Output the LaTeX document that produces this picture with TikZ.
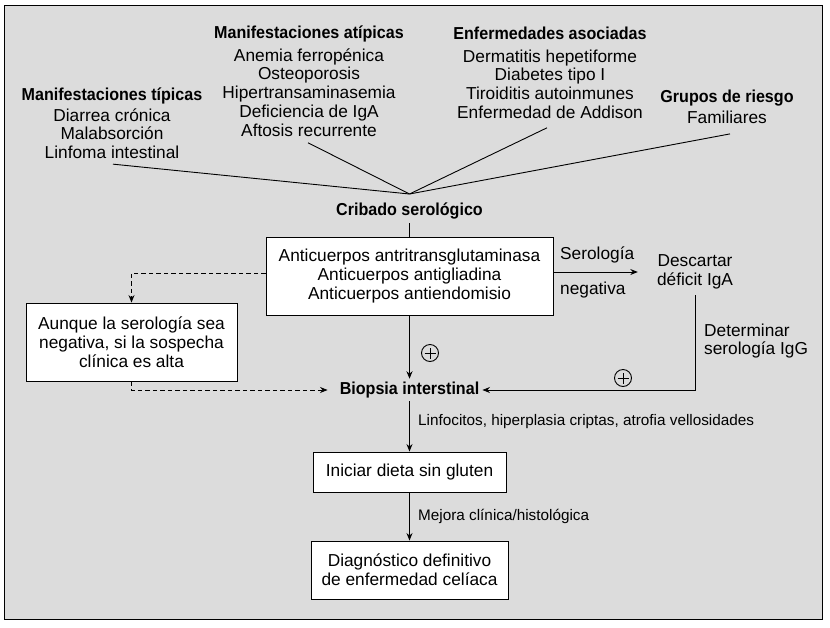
\documentclass[tikz,border=0pt]{standalone}
\usepackage{fontspec}
\setmainfont{Liberation Sans}[BoldFeatures={FakeStretch=0.93}]
\usetikzlibrary{arrows.meta,calc}
\definecolor{bg}{RGB}{220,220,220}
\begin{document}
\begin{tikzpicture}[x=1pt,y=-1pt,
  reg/.style={font=\fontsize{17.3}{18.8}\selectfont, align=center, inner sep=0pt},
  ttl/.style={font=\fontsize{17.3}{18.8}\selectfont\bfseries, inner sep=0pt},
  box/.style={draw, fill=white, line width=0.9pt, align=center, inner sep=0pt,
              font=\fontsize{17.3}{18.8}\selectfont},
  lab/.style={font=\fontsize{15.3}{18}\selectfont, inner sep=0pt, anchor=west},
  ln/.style={line width=0.9pt},
  arr/.style={ln, -{Stealth[length=7.5pt,width=6pt]}},
  dsh/.style={dash pattern=on 4.5pt off 3pt},
  pluscirc/.style={circle, draw, line width=0.9pt, minimum size=17pt, inner sep=0pt,
    path picture={\draw[line width=0.9pt]
      ([xshift=-5.5pt]path picture bounding box.center) -- ([xshift=5.5pt]path picture bounding box.center)
      ([yshift=-5.5pt]path picture bounding box.center) -- ([yshift=5.5pt]path picture bounding box.center);}}
]
\useasboundingbox (0,0) rectangle (830,627);
\draw[fill=bg, line width=1pt] (4.5,5) rectangle (822,619.5);

% top groups
\node[reg, anchor=north] (typ) at (112,88)
  {\textbf{Manifestaciones típicas}\\[1.5pt] Diarrea crónica\\Malabsorción\\Linfoma intestinal};
\node[reg, anchor=north] (atip) at (309,26)
  {\textbf{Manifestaciones atípicas}\\[3.5pt] Anemia ferropénica\\Osteoporosis\\Hipertransaminasemia\\Deficiencia de IgA\\Aftosis recurrente};
\node[reg, anchor=north] (enf) at (550,27)
  {\textbf{Enfermedades asociadas}\\[3.5pt] Dermatitis hepetiforme\\Diabetes tipo I\\Tiroiditis autoinmunes\\Enfermedad de Addison};
\node[reg, anchor=north] (grp) at (727,90)
  {\textbf{Grupos de riesgo}\\[2pt] Familiares};

\coordinate (cv) at (409.5,194);
\draw[ln] ($(typ.south)+(1,5)$) -- (cv);
\draw[ln] ($(atip.south)+(-1,6)$) -- (cv);
\draw[ln] ($(enf.south)+(-3,9)$) -- (cv);
\draw[ln] ($(grp.south)+(3,10)$) -- (cv);

\node[ttl, inner ysep=4pt] (cri) at (409.5,211) {Cribado serológico};

\node[box, minimum width=287pt, minimum height=78pt] (ab) at (409.5,276)
  {Anticuerpos antritransglutaminasa\\Anticuerpos antigliadina\\Anticuerpos antiendomisio};
\draw[ln] (cri.south) -- (ab.north);

\node[reg, inner xsep=19pt, inner ysep=6pt] (desc) at (695,272) {Descartar\\déficit IgA};
\draw[arr] (ab.east |- desc.west) -- (desc.west);
\node[reg, align=left, anchor=west] (serneg) at (560,272.5) {Serología\\[16.5pt]negativa};

\node[ttl, inner xsep=3pt, inner ysep=3pt] (bio) at (409.5,390) {Biopsia interstinal};
\draw[arr] (desc.south) |- (bio.east);
\node[reg, align=left, anchor=west] (detig) at (704,341) {Determinar\\serología IgG};
\node[pluscirc] (p2) at (623,378) {};

\draw[arr] (ab.south) -- (bio.north);
\node[pluscirc] (p1) at (430,353) {};

\node[box, minimum width=211pt, minimum height=78pt] (aun) at (131.5,342)
  {Aunque la serología sea\\negativa, si la sospecha\\clínica es alta};
\draw[arr, dsh] ($(ab.west)+(0,-3)$) -| (aun.north);
\draw[arr, dsh, shorten >=9pt] (aun.south) |- (bio.west);

\node[box, minimum width=193pt, minimum height=40pt] (ini) at (409.5,472) {Iniciar dieta sin gluten};
\draw[arr] (bio.south) -- (ini.north);
\node[lab] (l1) at (418,422) {Linfocitos, hiperplasia criptas, atrofia vellosidades};

\node[box, minimum width=197pt, minimum height=58pt] (diag) at (409.5,570)
  {Diagnóstico definitivo\\de enfermedad celíaca};
\draw[arr] (ini.south) -- (diag.north);
\node[lab] (l2) at (418,516) {Mejora clínica/histológica};
\end{tikzpicture}
\end{document}
